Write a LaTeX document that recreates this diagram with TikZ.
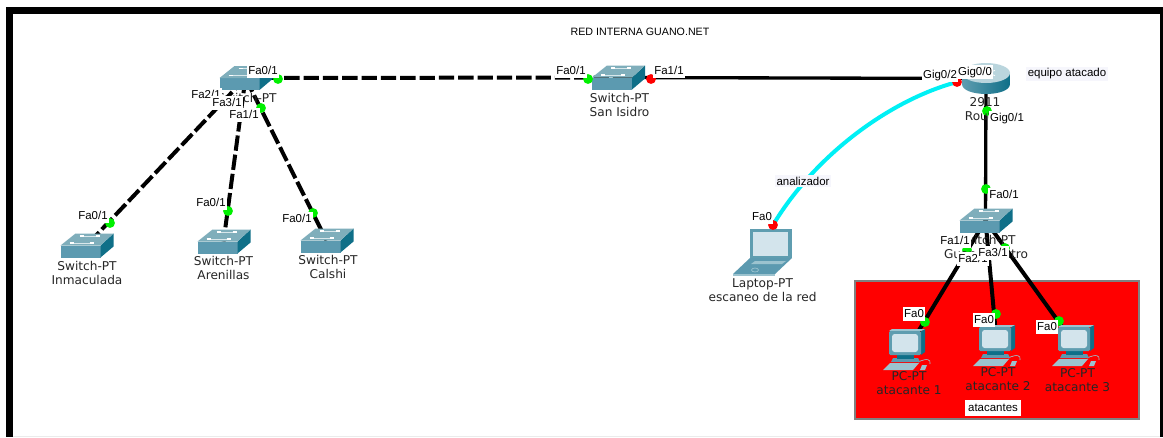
\documentclass[tikz,border=0pt]{standalone}
\usepackage{fontspec}
\setmainfont{Liberation Sans}
\newfontfamily\devfont{DejaVu Sans}
\usetikzlibrary{positioning,calc}
\definecolor{swtop}{HTML}{7FAEBB}
\definecolor{swfront}{HTML}{5C9AB0}
\definecolor{swside}{HTML}{0F6F88}
\definecolor{scr}{HTML}{D3E4EC}
\definecolor{pcbody}{HTML}{5F9DB0}
\definecolor{pclight}{HTML}{9CC3CF}
\definecolor{updot}{HTML}{00F000}
\definecolor{lnk}{HTML}{00F0F5}
\definecolor{faint}{HTML}{F6F6FC}

\begin{document}
\begin{tikzpicture}[
  x=0.75pt, y=-0.75pt,
  dev/.style={inner sep=0pt, minimum size=2pt},
  okdot/.style={circle, fill=updot, inner sep=0pt, minimum size=7.4pt},
  baddot/.style={circle, fill=red, inner sep=0pt, minimum size=7.4pt},
  port/.style={fill=white, inner xsep=1pt, inner ysep=1pt, text height=6.4pt, text depth=1.4pt, font=\fontsize{8.6}{10}\selectfont},
  devname/.style={align=center, inner sep=0pt, font=\devfont\fontsize{9.1}{10.5}\selectfont, text=black!85},
  note/.style={fill=faint, inner sep=1.5pt, font=\fontsize{8.6}{10}\selectfont},
  dashlink/.style={line width=3pt, dash pattern=on 11.5pt off 3pt},
  solidlink/.style={line width=2.5pt},
  swicon/.pic={
    \fill[swfront] (-26,0) -- (14,0) -- (14,12) -- (-26,12) -- cycle;
    \fill[swside] (14,0) -- (27,-12) -- (27,1) -- (14,12) -- cycle;
    \fill[swtop] (-26,0) -- (-11,-12) -- (27,-12) -- (14,0) -- cycle;
    \draw[white, line width=0.9pt] (-17,-2.5) -- (-13,-2.5) (-7,-9.5) -- (-3,-9.5) (9,-9.5) -- (13,-9.5) (3,-2.5) -- (7,-2.5);
    \draw[white!70!swtop, line width=0.5pt] (-13,-2.5) -- (3,-2.5) (-3,-9.5) -- (9,-9.5);
  },
  rticon/.pic={
    \shade[left color=pcbody, middle color=white!80!pcbody, right color=swside] (-24,-5.5) -- (-24,5.5) .. controls (-24,18.8) and (24,18.8) .. (24,5.5) -- (24,-5.5) -- cycle;
    \fill[pclight!70!white] (0,-5.5) ellipse [x radius=24, y radius=10];
    \draw[white, line width=0.6pt] (-9,-8) -- (9,-3) (-9,-3) -- (9,-8);
  },
  pcicon/.pic={
    \draw[pclight, line width=0.5pt] (11,12) .. controls (20,8) and (24,9) .. (23,14);
    \fill[swfront] (-14,8) -- (11,8) -- (13,12) -- (-16,12) -- cycle;
    \fill[swside] (-10,3) rectangle (7,9);
    \fill[swside] (14,-19) -- (18,-21) -- (18,2) -- (14,5) -- cycle;
    \fill[pclight] (-15,-21) -- (18,-21) -- (14,-19) -- (-18,-19) -- cycle;
    \fill[pcbody, rounded corners=1pt] (-18,-19) rectangle (14,5);
    \fill[scr, rounded corners=2pt] (-15,-16) rectangle (11,2);
    \fill[pclight] (-24,20) -- (-17,13) -- (12,13) -- (6,20) -- cycle;
    \fill[pclight] (15,15) -- (20,15) -- (18,20) -- (13,20) -- cycle;
  },
  lpicon/.pic={
    \fill[pcbody] (-12,-23) -- (30,-23) -- (30,6) -- (-12,6) -- cycle;
    \fill[scr] (-9,-20) rectangle (26,4);
    \fill[swfront] (-12,6) -- (30,6) -- (13,22) -- (-29,22) -- cycle;
    \fill[pclight] (-29,22) -- (13,22) -- (13,24) -- (-29,24) -- cycle;
    \fill[pclight] (-7,9) -- (24,9) -- (20,12) -- (-11,12) -- cycle;
    \draw[pclight, line width=0.5pt] (-7,18) ellipse [x radius=3.5, y radius=2];
  }]
  \useasboundingbox (0,0) rectangle (1163,437);
  \fill[white] (0,0) rectangle (1163,437);
  % window border
  \fill[black] (6,7) rectangle (1163,13.5);
  \fill[black] (6,7) rectangle (12.5,437);
  \fill[black] (1160,7) rectangle (1163,437);
  \fill[black!8] (12.5,435.5) rectangle (1160,437);
  % atacantes area
  \draw[fill=red, draw=black!50, line width=0.8pt] (855,281) rectangle (1139,419);

  \node[dev] (inma) at (86.5,245.5) {};
  \node[dev] (aren) at (223.5,241.5) {};
  \node[dev] (cals) at (326.5,240.5) {};
  \node[dev] (cent) at (245.5,78) {};
  \node[dev] (isid) at (618,77.5) {};
  \node[dev] (rout) at (986,78.5) {};
  \node[dev] (guan) at (985.5,220.5) {};
  \node[dev] (laptop) at (762,252) {};
  \node[dev] (pca) at (907,350) {};
  \node[dev] (pcb) at (997,346) {};
  \node[dev] (pcc) at (1076,346) {};
  \coordinate (lapend) at (773,225);
  \coordinate (routend) at (957,82);

  \draw[dashlink] (cent.center) -- (isid.center);
  \draw[dashlink] (cent.center) -- (inma.center);
  \draw[dashlink] (cent.center) -- (aren.center);
  \draw[dashlink] (cent.center) -- (cals.center);
  \draw[solidlink] (isid.center) -- (rout.center);
  \draw[solidlink] (rout.center) -- (guan.center);
  \draw[solidlink, line width=3pt] (guan.center) -- (pca.center);
  \draw[solidlink, line width=3pt] (guan.center) -- (pcb.center);
  \draw[solidlink, line width=3pt] (guan.center) -- (pcc.center);
  \draw[lnk, line width=3pt] (lapend) .. controls (815,155) and (890,100) .. (routend);

  \pic at (inma) {swicon};
  \pic at (aren) {swicon};
  \pic at (cals) {swicon};
  \pic at (cent) {swicon};
  \pic at (isid) {swicon};
  \pic at (guan) {swicon};
  \pic at (rout) {rticon};
  \pic at (pca) {pcicon};
  \pic at (pcb) {pcicon};
  \pic at (pcc) {pcicon};
  \pic at (laptop) {lpicon};

  \node[okdot] (dcent) at (278,79) {};
  \node[okdot] (dcentb) at (261,108) {};
  \node[okdot] (dinma) at (110,223) {};
  \node[okdot] (daren) at (228,211) {};
  \node[okdot] (dcals) at (313,213) {};
  \node[okdot] (disid) at (588,79) {};
  \node[baddot] (disidb) at (651,79) {};
  \node[baddot] (drouta) at (routend) {};
  \node[okdot] (droutb) at (987,111) {};
  \node[okdot] (dguan) at (986,189) {};
  \node[okdot] (dguanb) at (967,250) {};
  \node[okdot] (dguanc) at (1005,248) {};
  \node[okdot] (dpca) at (925,322) {};
  \node[okdot] (dpcb) at (996,314) {};
  \node[okdot] (dpcc) at (1059,321) {};
  \node[baddot] (dlap) at (lapend) {};

  \node[inner sep=0pt, font=\fontsize{8}{9}\selectfont] (title) at (640,32) {RED INTERNA GUANO.NET};

  \node[devname] (ninma) at (87,272.5) {Switch-PT\\Inmaculada};
  \node[devname] (naren) at (223.5,268) {Switch-PT\\Arenillas};
  \node[devname] (ncals) at (328,267) {Switch-PT\\Calshi};
  \node[devname] (ncent) at (247,98) {Switch-PT};
  \node[devname] (nisid) at (619.5,105) {Switch-PT\\San Isidro};
  \node[devname] (nrout) at (985,109.5) {2911\\Router};
  \node[devname] (nguan) at (986,247) {Switch-PT\\Guano Centro};
  \node[devname] (nlap) at (762.5,290.5) {Laptop-PT\\escaneo de la red};
  \node[devname] (npca) at (909,383) {PC-PT\\atacante 1};
  \node[devname] (npcb) at (998,379) {PC-PT\\atacante 2};
  \node[devname] (npcc) at (1077.5,380) {PC-PT\\atacante 3};

  \node[port] (pcenta) at (263,71) {Fa0/1};
  \node[port] (pcentb) at (206,95) {Fa2/1};
  \node[port] (pcentc) at (227,103) {Fa3/1};
  \node[port] (pcentd) at (244,115) {Fa1/1};
  \node[port] (pinma) at (93,216) {Fa0/1};
  \node[port] (paren) at (211,203) {Fa0/1};
  \node[port] (pcals) at (297,219) {Fa0/1};
  \node[port] (pisida) at (571,71) {Fa0/1};
  \node[port] (pisidb) at (669,71) {Fa1/1};
  \node[port] (prouta) at (940,75) {Gig0/2};
  \node[port] (proutb) at (975,72) {Gig0/0};
  \node[port] (proutc) at (1007,118) {Gig0/1};
  \node[port] (pguana) at (1004,195) {Fa0/1};
  \node[port] (pguanb) at (955,241) {Fa1/1};
  \node[port] (pguanc) at (973,259) {Fa2/1};
  \node[port] (pguand) at (993,253) {Fa3/1};
  \node[port] (ppca) at (914,314) {Fa0};
  \node[port] (ppcb) at (984,320) {Fa0};
  \node[port] (ppcc) at (1047,327) {Fa0};
  \node[port] (plap) at (762,217) {Fa0};

  \node[note] (natac) at (1067,74) {equipo atacado};
  \node[note] (nanal) at (803,181) {analizador};
  \node[port, inner xsep=2pt, inner ysep=2pt] (natacs) at (993,408) {atacantes};
\end{tikzpicture}
\end{document}
